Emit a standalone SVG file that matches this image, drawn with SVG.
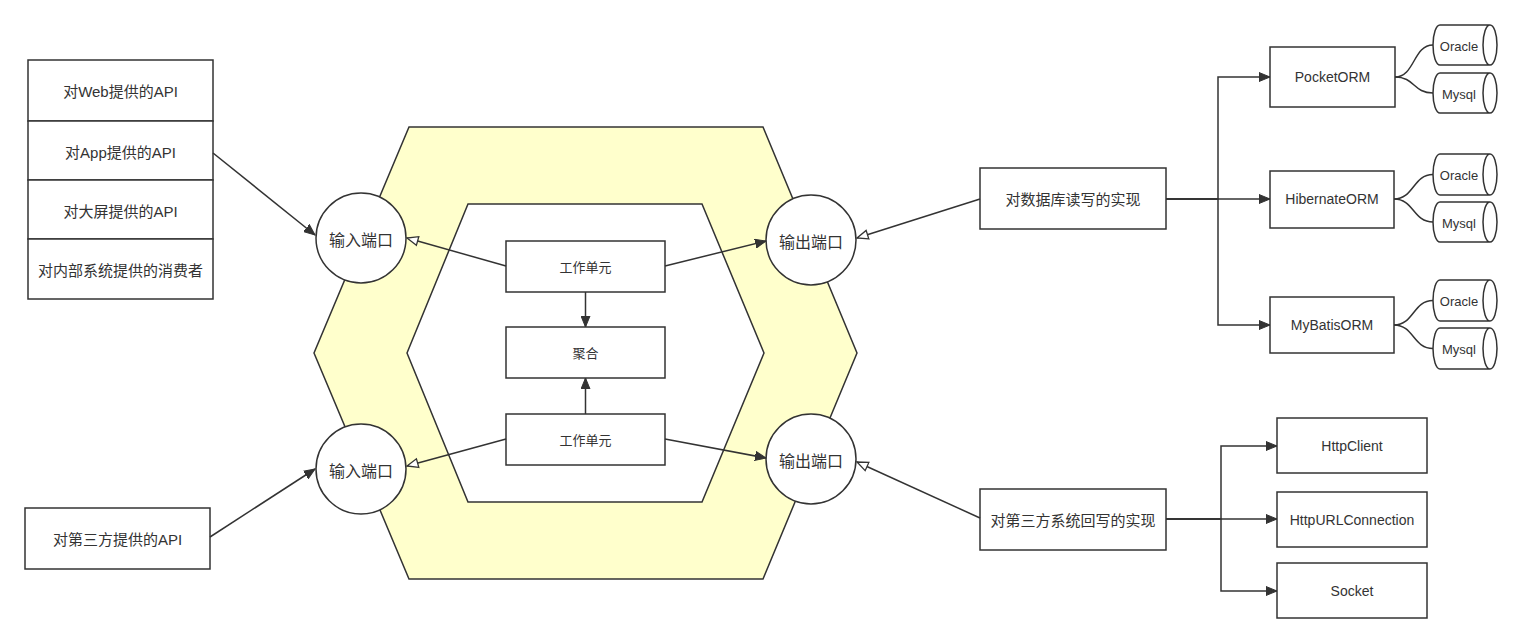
<svg xmlns="http://www.w3.org/2000/svg" width="1521" height="642" viewBox="0 0 1521 642">
  <style>
    .box { fill: #ffffff; stroke: #333333; stroke-width: 1.5; }
    .hex-outer { fill: #ffffcc; stroke: #333333; stroke-width: 1.5; }
    .hex-inner { fill: #ffffff; stroke: #333333; stroke-width: 1.5; }
    .edge { fill: none; stroke: #333333; stroke-width: 1.5; }
    .t { font-family: "Liberation Sans", "Noto Sans CJK SC", sans-serif; fill: #333333; text-anchor: middle; dominant-baseline: central; }
    .t15 { font-size: 15px; }
    .t16 { font-size: 16px; }
    .t14 { font-size: 14px; }
    .t13 { font-size: 13px; }
  </style>
  <defs>
    <marker id="arrowFilled" markerUnits="userSpaceOnUse" markerWidth="12" markerHeight="10" refX="11" refY="5" orient="auto">
      <path d="M0,0.5 L11,5 L0,9.5 Z" fill="#333333" stroke="#333333" stroke-width="1"/>
    </marker>
    <marker id="arrowOpen" markerUnits="userSpaceOnUse" markerWidth="14" markerHeight="12" refX="12" refY="6" orient="auto">
      <path d="M1,1.5 L12,6 L1,10.5 Z" fill="#ffffff" stroke="#333333" stroke-width="1.3"/>
    </marker>
  </defs>
  <rect width="1521" height="642" fill="#ffffff"/>

  <!-- hexagonal core -->
  <g id="hexagon">
    <polygon class="hex-outer" points="409,127 763,127 857,353 763,579 409,579 314,353"/>
    <polygon class="hex-inner" points="468,204 702,204 764,353 702,502 468,502 407,353"/>
  </g>

  <!-- API stack on the left -->
  <g id="api-web">
    <rect class="box" x="28" y="60" width="185" height="61"/>
    <text class="t t15" x="120.5" y="91">对Web提供的API</text>
  </g>
  <g id="api-app">
    <rect class="box" x="28" y="121" width="185" height="59"/>
    <text class="t t15" x="120.5" y="152">对App提供的API</text>
  </g>
  <g id="api-screen">
    <rect class="box" x="28" y="180" width="185" height="59"/>
    <text class="t t15" x="120.5" y="211">对大屏提供的API</text>
  </g>
  <g id="api-consumer">
    <rect class="box" x="28" y="239" width="185" height="60"/>
    <text class="t t15" x="120.5" y="270">对内部系统提供的消费者</text>
  </g>
  <g id="api-third">
    <rect class="box" x="25" y="508" width="185" height="61"/>
    <text class="t t15" x="117.5" y="539">对第三方提供的API</text>
  </g>

  <!-- ports -->
  <g id="in-port-1">
    <circle class="box" cx="361" cy="238" r="45"/>
    <text class="t t16" x="361" y="240">输入端口</text>
  </g>
  <g id="in-port-2">
    <circle class="box" cx="361" cy="469" r="45"/>
    <text class="t t16" x="361" y="471">输入端口</text>
  </g>
  <g id="out-port-1">
    <circle class="box" cx="811" cy="240" r="45"/>
    <text class="t t16" x="811" y="242">输出端口</text>
  </g>
  <g id="out-port-2">
    <circle class="box" cx="811" cy="459" r="45"/>
    <text class="t t16" x="811" y="461">输出端口</text>
  </g>

  <!-- domain -->
  <g id="unit-1">
    <rect class="box" x="506" y="241" width="159" height="51"/>
    <text class="t t13" x="585.5" y="267">工作单元</text>
  </g>
  <g id="aggregate">
    <rect class="box" x="506" y="327" width="159" height="51"/>
    <text class="t t13" x="585.5" y="353">聚合</text>
  </g>
  <g id="unit-2">
    <rect class="box" x="506" y="414" width="159" height="51"/>
    <text class="t t13" x="585.5" y="440">工作单元</text>
  </g>

  <!-- adapters on the right -->
  <g id="db-impl">
    <rect class="box" x="980" y="168" width="186" height="61"/>
    <text class="t t15" x="1073" y="199">对数据库读写的实现</text>
  </g>
  <g id="third-impl">
    <rect class="box" x="980" y="489" width="186" height="61"/>
    <text class="t t15" x="1073" y="520">对第三方系统回写的实现</text>
  </g>

  <g id="pocket-orm">
    <rect class="box" x="1270" y="47" width="125" height="60"/>
    <text class="t t14" x="1332.5" y="77">PocketORM</text>
  </g>
  <g id="hibernate-orm">
    <rect class="box" x="1270" y="171" width="124" height="57"/>
    <text class="t t14" x="1332" y="199">HibernateORM</text>
  </g>
  <g id="mybatis-orm">
    <rect class="box" x="1270" y="297" width="124" height="56"/>
    <text class="t t14" x="1332" y="325">MyBatisORM</text>
  </g>

  <g id="http-client">
    <rect class="box" x="1277" y="418" width="150" height="55"/>
    <text class="t t14" x="1352" y="446">HttpClient</text>
  </g>
  <g id="http-url-connection">
    <rect class="box" x="1277" y="492" width="150" height="55"/>
    <text class="t t14" x="1352" y="520">HttpURLConnection</text>
  </g>
  <g id="socket">
    <rect class="box" x="1277" y="563" width="150" height="55"/>
    <text class="t t14" x="1352" y="591">Socket</text>
  </g>

  <!-- databases (sideways cylinders) -->
  <g id="pocket-oracle">
    <path class="box" d="M1440,25 L1490,25 A7,20 0 0 1 1490,65 L1440,65 A7,20 0 0 1 1440,25 Z M1490,25 A7,20 0 0 0 1490,65"/>
    <text class="t t13" x="1459" y="46">Oracle</text>
  </g>
  <g id="pocket-mysql">
    <path class="box" d="M1440,73 L1490,73 A7,20 0 0 1 1490,113 L1440,113 A7,20 0 0 1 1440,73 Z M1490,73 A7,20 0 0 0 1490,113"/>
    <text class="t t13" x="1459" y="94">Mysql</text>
  </g>
  <g id="hibernate-oracle">
    <path class="box" d="M1440,154 L1490,154 A7,20.5 0 0 1 1490,195 L1440,195 A7,20.5 0 0 1 1440,154 Z M1490,154 A7,20.5 0 0 0 1490,195"/>
    <text class="t t13" x="1459" y="175">Oracle</text>
  </g>
  <g id="hibernate-mysql">
    <path class="box" d="M1440,202 L1490,202 A7,20 0 0 1 1490,242 L1440,242 A7,20 0 0 1 1440,202 Z M1490,202 A7,20 0 0 0 1490,242"/>
    <text class="t t13" x="1459" y="223">Mysql</text>
  </g>
  <g id="mybatis-oracle">
    <path class="box" d="M1440,280 L1490,280 A7,20.5 0 0 1 1490,321 L1440,321 A7,20.5 0 0 1 1440,280 Z M1490,280 A7,20.5 0 0 0 1490,321"/>
    <text class="t t13" x="1459" y="301">Oracle</text>
  </g>
  <g id="mybatis-mysql">
    <path class="box" d="M1440,328 L1490,328 A7,20.5 0 0 1 1490,369 L1440,369 A7,20.5 0 0 1 1440,328 Z M1490,328 A7,20.5 0 0 0 1490,369"/>
    <text class="t t13" x="1459" y="349">Mysql</text>
  </g>

  <!-- connectors -->
  <g id="connectors">
    <line class="edge" x1="213" y1="153" x2="315" y2="235" marker-end="url(#arrowFilled)"/>
    <line class="edge" x1="210" y1="537" x2="315" y2="469" marker-end="url(#arrowFilled)"/>

    <line class="edge" x1="506" y1="266" x2="407" y2="238" marker-end="url(#arrowOpen)"/>
    <line class="edge" x1="665" y1="266" x2="766" y2="241" marker-end="url(#arrowFilled)"/>
    <line class="edge" x1="585.5" y1="292" x2="585.5" y2="327" marker-end="url(#arrowFilled)"/>
    <line class="edge" x1="585.5" y1="414" x2="585.5" y2="378" marker-end="url(#arrowFilled)"/>
    <line class="edge" x1="506" y1="439" x2="407" y2="466" marker-end="url(#arrowOpen)"/>
    <line class="edge" x1="665" y1="439" x2="766" y2="458" marker-end="url(#arrowFilled)"/>

    <line class="edge" x1="980" y1="199" x2="857" y2="238" marker-end="url(#arrowOpen)"/>
    <line class="edge" x1="980" y1="518" x2="857" y2="462" marker-end="url(#arrowOpen)"/>

    <polyline class="edge" points="1166,199 1218,199 1218,77 1270,77" marker-end="url(#arrowFilled)"/>
    <line class="edge" x1="1166" y1="199" x2="1270" y2="199" marker-end="url(#arrowFilled)"/>
    <polyline class="edge" points="1166,199 1218,199 1218,325 1270,325" marker-end="url(#arrowFilled)"/>

    <polyline class="edge" points="1166,519 1221,519 1221,446 1277,446" marker-end="url(#arrowFilled)"/>
    <line class="edge" x1="1166" y1="519" x2="1277" y2="519" marker-end="url(#arrowFilled)"/>
    <polyline class="edge" points="1166,519 1221,519 1221,591 1277,591" marker-end="url(#arrowFilled)"/>

    <path class="edge" d="M1395,77 C1415,77 1413,45 1433,45"/>
    <path class="edge" d="M1395,77 C1415,77 1413,93 1433,93"/>
    <path class="edge" d="M1394,199 C1414,199 1413,174.5 1433,174.5"/>
    <path class="edge" d="M1394,199 C1414,199 1413,222 1433,222"/>
    <path class="edge" d="M1394,325 C1414,325 1413,300.5 1433,300.5"/>
    <path class="edge" d="M1394,325 C1414,325 1413,348.5 1433,348.5"/>
  </g>
</svg>
